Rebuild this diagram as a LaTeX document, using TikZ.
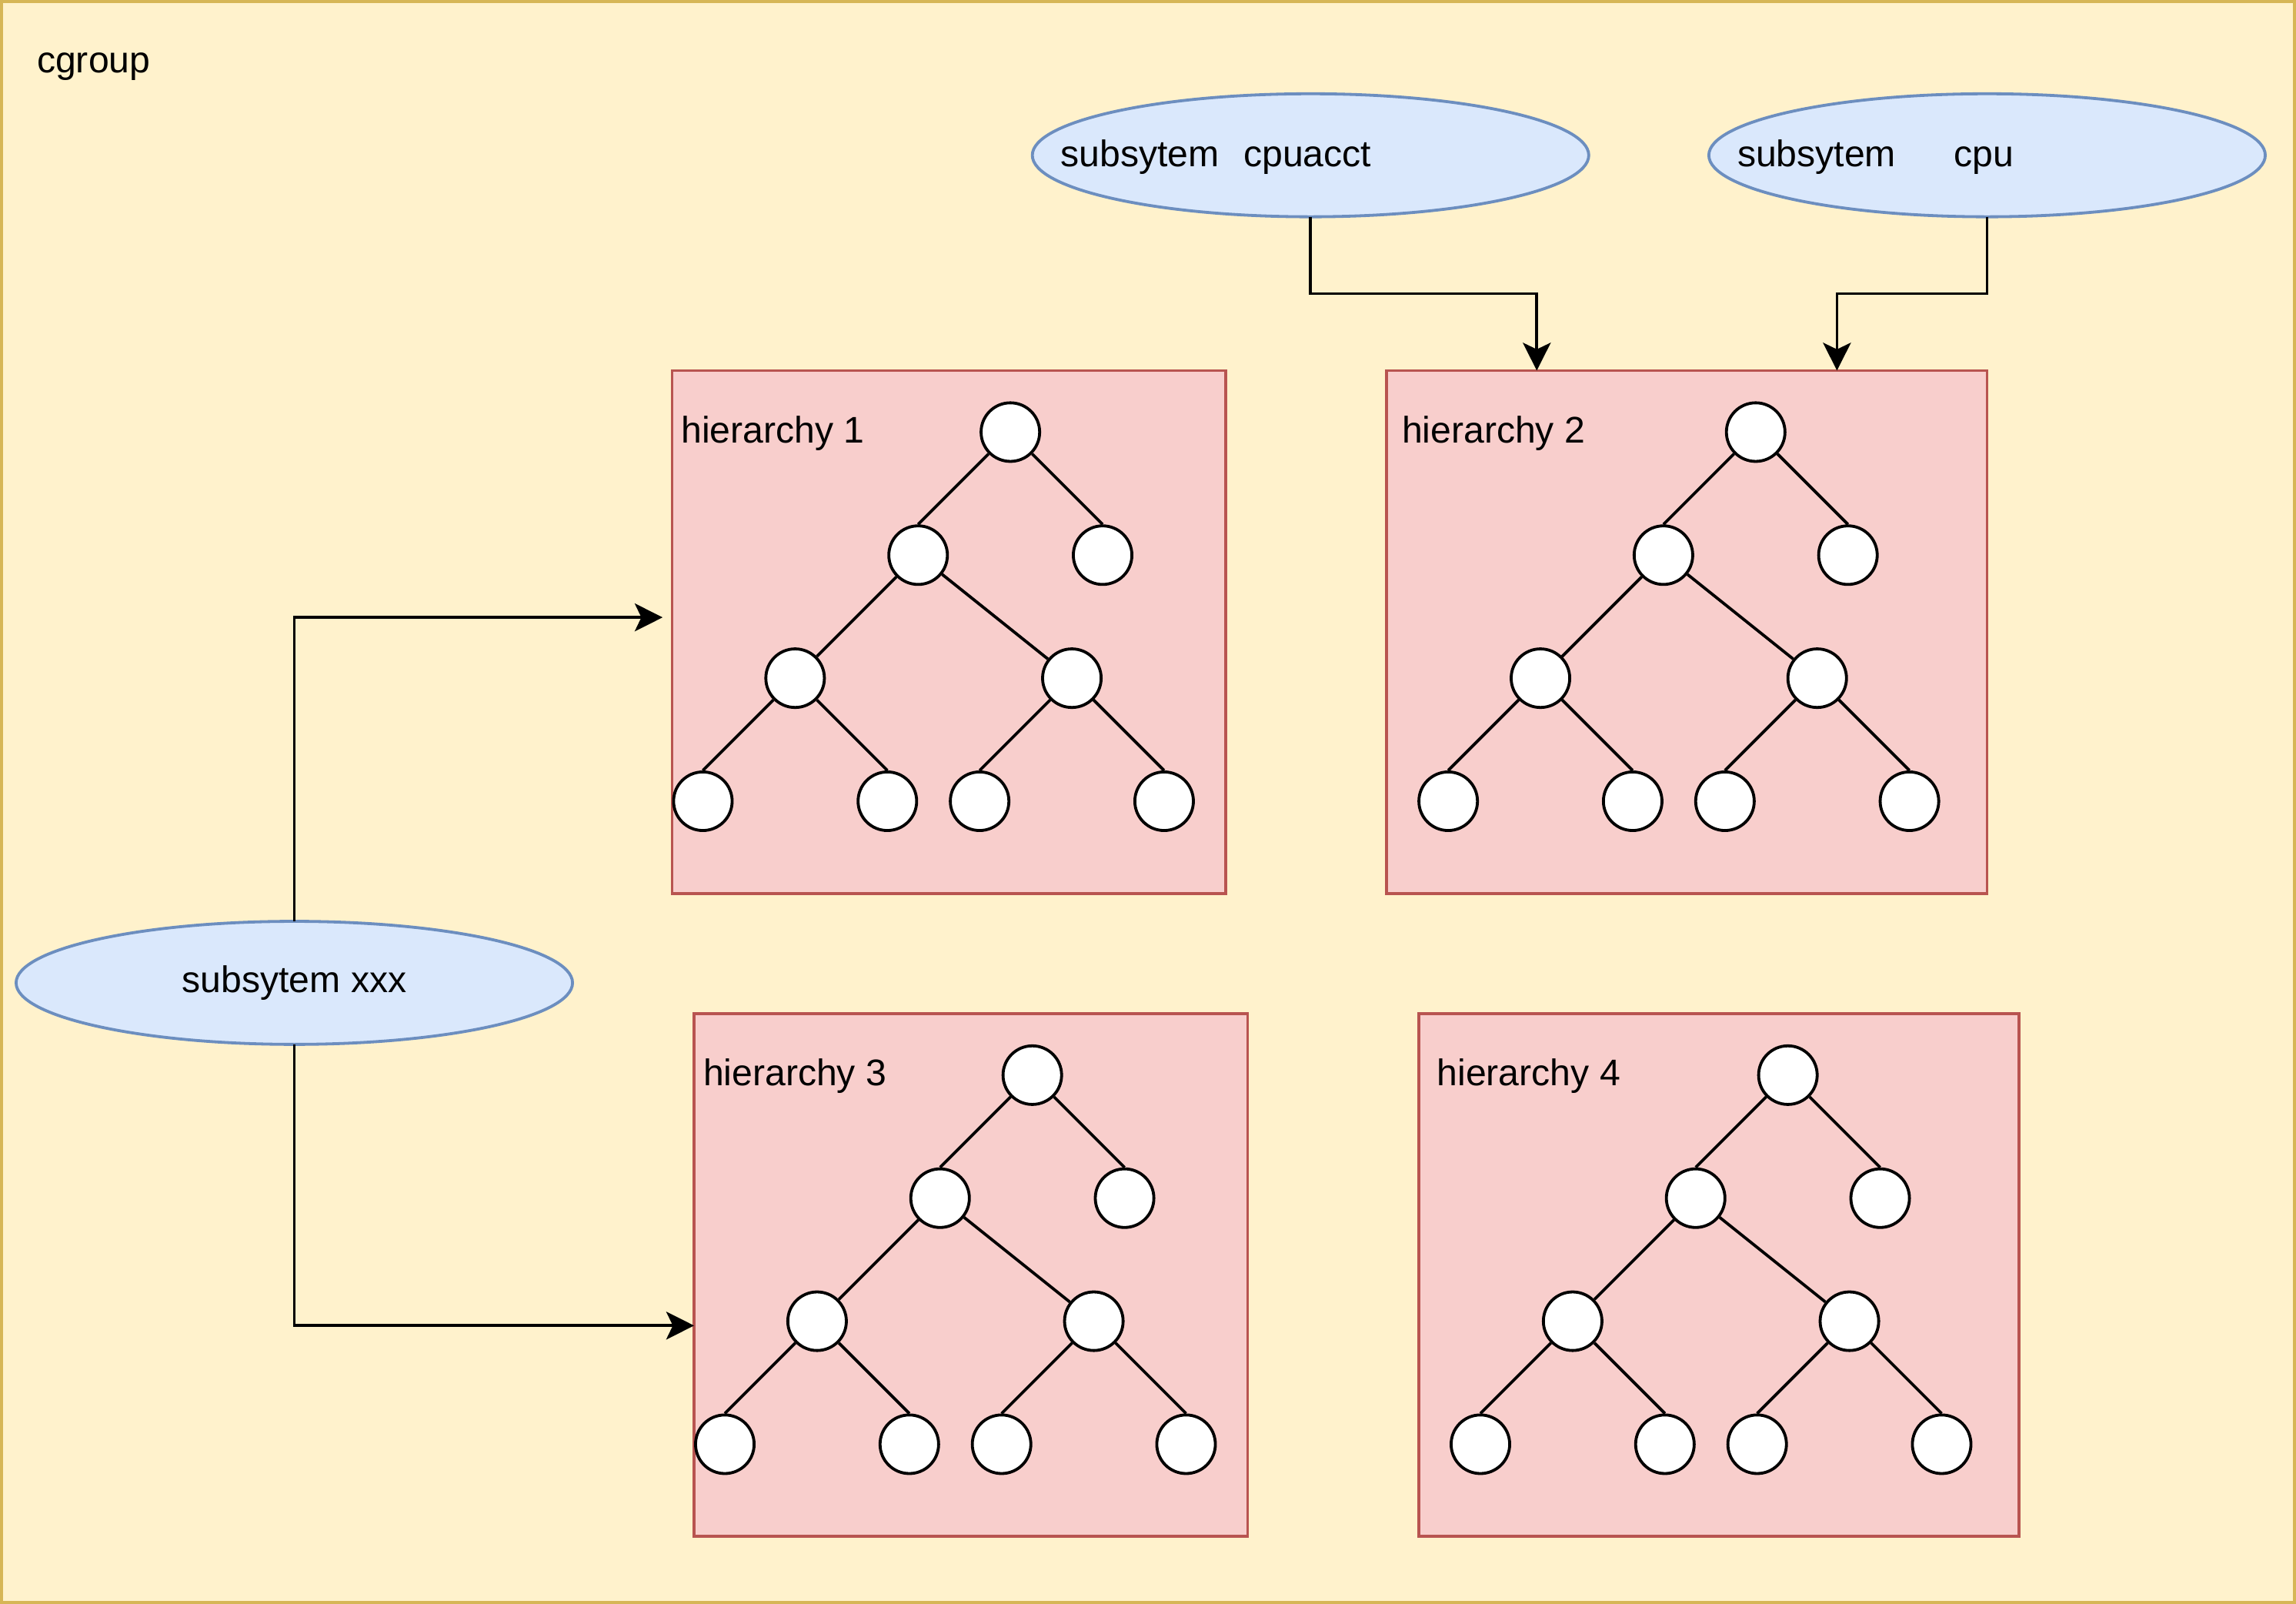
\documentclass[tikz,border=0pt]{standalone}
\usepackage{fontspec}
\setmainfont{Liberation Sans}
\usetikzlibrary{arrows.meta,shapes.geometric}

\definecolor{cgroupfill}{HTML}{FFF2CC}
\definecolor{cgroupline}{HTML}{D6B656}
\definecolor{hierfill}{HTML}{F8CECC}
\definecolor{hierline}{HTML}{B85450}
\definecolor{subfill}{HTML}{DAE8FC}
\definecolor{subline}{HTML}{6C8EBF}

\begin{document}
\begin{tikzpicture}[x=1pt,y=-1pt,font=\fontsize{25.3}{30}\selectfont,
	every label/.style={inner sep=0pt,outer sep=0pt},
	hierbox/.style={draw=hierline,fill=hierfill,line width=2pt,inner sep=0pt,outer sep=0pt,minimum height=357pt},
	subsys/.style={ellipse,draw=subline,fill=subfill,line width=2pt,inner sep=0pt,outer sep=0pt,minimum width=380pt,minimum height=84pt},
	cnode/.style={circle,draw,fill=white,line width=2pt,inner sep=0pt,minimum size=40pt},
	link/.style={-{Stealth[length=19pt,width=19pt,inset=4.5pt]},line width=2pt}]
\useasboundingbox (0,0) rectangle (1568,1095);
\node[draw=cgroupline,fill=cgroupfill,line width=2pt,inner sep=0pt,outer sep=0pt,
	minimum width=1566pt,minimum height=1093pt,
	label={[anchor=base west,xshift=24.3pt,yshift=-48.9pt]north west:cgroup}]
(cgroup) at (784,547.5) {};
\node[hierbox,minimum width=378pt,
	label={[anchor=base west,xshift=6.3pt,yshift=-49.4pt]north west:hierarchy 1}]
(h1) at (648,431.5) {};
\node[hierbox,minimum width=410pt,
	label={[anchor=base west,xshift=10.4pt,yshift=-49.4pt]north west:hierarchy 2}]
(h2) at (1152,431.5) {};
\node[hierbox,minimum width=378pt,
	label={[anchor=base west,xshift=6.3pt,yshift=-49.4pt]north west:hierarchy 3}]
(h3) at (663,870.5) {};
\node[hierbox,minimum width=410pt,
	label={[anchor=base west,xshift=12.4pt,yshift=-49.4pt]north west:hierarchy 4}]
(h4) at (1174,870.5) {};
\node[subsys,label={[anchor=base west,xshift=19.5pt,yshift=-7.5pt]west:subsytem\hspace{16.5pt}cpuacct}]
(cpuacct) at (895,106) {};
\node[subsys,label={[anchor=base west,xshift=19.5pt,yshift=-7.5pt]west:subsytem\hspace{39.5pt}cpu}]
(cpu) at (1357,106) {};
\node[subsys] (xxx) at (201,671) {subsytem xxx};
% the four trees, one per hierarchy
\foreach \h/\x/\y in {1/690/295,2/1199/295,3/705/734,4/1221/734}{
	\begin{scope}[shift={(\x,\y)}]
	\node[cnode] (r\h) at (0,0) {};
	\node[cnode] (a\h) at (-63,84) {};
	\node[cnode] (b\h) at (63,84) {};
	\node[cnode] (c\h) at (-147,168) {};
	\node[cnode] (d\h) at (42,168) {};
	\node[cnode] (e\h) at (-210,252) {};
	\node[cnode] (f\h) at (-84,252) {};
	\node[cnode] (g\h) at (-21,252) {};
	\node[cnode] (k\h) at (105,252) {};
	\end{scope}
	\draw[line width=2pt] (r\h.south west) -- (a\h.north) (r\h.south east) -- (b\h.north)
		(a\h) -- (c\h) (a\h) -- (d\h)
		(c\h.south west) -- (e\h.north) (c\h.south east) -- (f\h.north)
		(d\h.south west) -- (g\h.north) (d\h.south east) -- (k\h.north);
}
\draw[link] (cpuacct.south) |- ([xshift=-102.5pt,yshift=52.5pt]h2.north)
	-- ([xshift=-102.5pt]h2.north);
\draw[link] (cpu.south) |- ([xshift=102.5pt,yshift=52.5pt]h2.north)
	-- ([xshift=102.5pt]h2.north);
\draw[link] (xxx.north) |- ([xshift=-6.5pt,yshift=10pt]h1.west);
\draw[link] (xxx.south) |- ([yshift=-34.5pt]h3.west);
\end{tikzpicture}
\end{document}
